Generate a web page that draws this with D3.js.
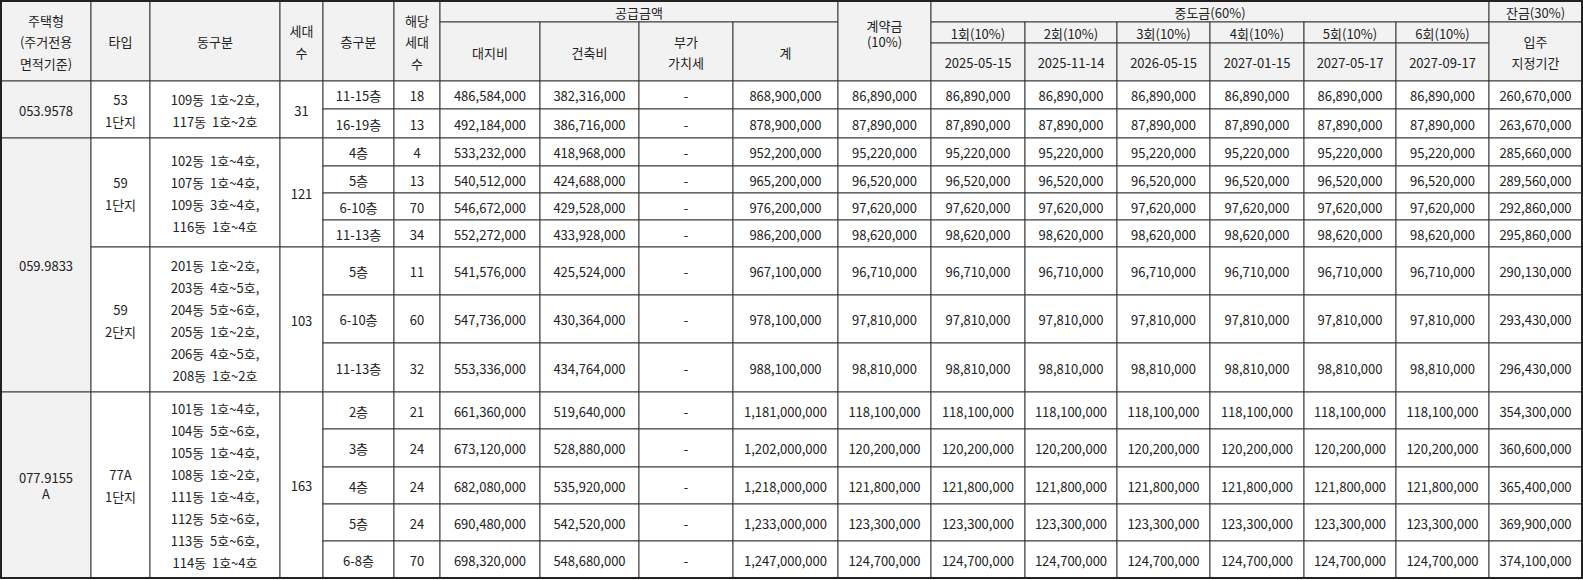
<!DOCTYPE html>
<html><head><meta charset="utf-8">
<script src="https://cdn.jsdelivr.net/npm/d3@7"></script>
<style>body{margin:0;background:#fff}</style>
</head><body><div id="chart"></div>
<script>
// 주택형 groups
const houseTypes = ['053.9578', '059.9833', '077.9155\nA'];
// 타입 groups
const typeLabels = ['53\n1단지', '59\n1단지', '59\n2단지', '77A\n1단지'];
const typeHouse = [0, 1, 1, 2];
const typeDong = [
  ['109동  1호~2호,', '117동  1호~2호'],
  ['102동  1호~4호,', '107동  1호~4호,', '109동  3호~4호,', '116동  1호~4호'],
  ['201동  1호~2호,', '203동  4호~5호,', '204동  5호~6호,', '205동  1호~2호,', '206동  4호~5호,', '208동  1호~2호'],
  ['101동  1호~4호,', '104동  5호~6호,', '105동  1호~4호,', '108동  1호~2호,', '111동  1호~4호,', '112동  5호~6호,', '113동  5호~6호,', '114동  1호~4호']
];
const typeUnits = [31, 121, 103, 163];
// floor rows
const rowType = [0, 0, 1, 1, 1, 1, 2, 2, 2, 3, 3, 3, 3, 3];
const floors = ['11-15층', '16-19층', '4층', '5층', '6-10층', '11-13층', '5층', '6-10층', '11-13층', '2층', '3층', '4층', '5층', '6-8층'];
const floorUnits = [18, 13, 4, 13, 70, 34, 11, 60, 32, 21, 24, 24, 24, 70];
const landCost = [486584000, 492184000, 533232000, 540512000, 546672000, 552272000, 541576000, 547736000, 553336000, 661360000, 673120000, 682080000, 690480000, 698320000];
const buildCost = [382316000, 386716000, 418968000, 424688000, 429528000, 433928000, 425524000, 430364000, 434764000, 519640000, 528880000, 535920000, 542520000, 548680000];
const totalCost = [868900000, 878900000, 952200000, 965200000, 976200000, 986200000, 967100000, 978100000, 988100000, 1181000000, 1202000000, 1218000000, 1233000000, 1247000000];
const deposit = [86890000, 87890000, 95220000, 96520000, 97620000, 98620000, 96710000, 97810000, 98810000, 118100000, 120200000, 121800000, 123300000, 124700000];
const balance = [260670000, 263670000, 285660000, 289560000, 292860000, 295860000, 290130000, 293430000, 296430000, 354300000, 360600000, 365400000, 369900000, 374100000];
const midRounds = ['1회(10%)', '2회(10%)', '3회(10%)', '4회(10%)', '5회(10%)', '6회(10%)'];
const midDates = ['2025-05-15', '2025-11-14', '2026-05-15', '2027-01-15', '2027-05-17', '2027-09-17'];

// layout
const colEdges = [0, 90, 149, 279, 322, 393, 439, 539, 638, 732, 837, 930, 1024, 1116, 1209, 1303, 1395, 1488, 1581];
const rowEdges = [80, 108, 137, 165, 192, 219, 246, 294, 342, 391, 428, 466, 503, 540, 577];
const ox = 1, oy = 1;
const fmt = d3.format(',');
const headFill = '#f2f2f2', lineColor = '#3a3a3a';

const svg = d3.select('#chart').append('svg')
  .attr('width', 1583).attr('height', 580)
  .style('font-family', '"Noto Sans CJK KR", "Noto Sans", sans-serif')
  .style('font-size', '13px');
const g = svg.append('g').attr('transform', `translate(${ox},${oy})`);

function cell(c0, c1, y0, y1, text, fill, lh) {
  const x0 = colEdges[c0], x1 = colEdges[c1];
  g.append('rect').attr('x', x0).attr('y', y0).attr('width', x1 - x0).attr('height', y1 - y0)
    .attr('fill', fill || '#fff').attr('stroke', lineColor).attr('stroke-width', 1);
  const lines = (Array.isArray(text) ? text : String(text).split('\n')).map(l => l.replace(/  /g, '\u00a0\u00a0'));
  const step = lh || 21.5;
  const cy = (y0 + y1) / 2 - (lines.length - 1) * step / 2;
  const t = g.append('text').attr('text-anchor', 'middle').attr('fill', '#222')
    .attr('dominant-baseline', 'central');
  lines.forEach((l, i) => {
    t.append('tspan').attr('x', (x0 + x1) / 2).attr('y', cy + i * step).text(l);
  });
}

// header
const h0 = 0, h1 = 21, h2 = 42, h3 = 80;
cell(0, 1, h0, h3, '주택형\n(주거전용\n면적기준)', headFill);
cell(1, 2, h0, h3, '타입', headFill);
cell(2, 3, h0, h3, '동구분', headFill);
cell(3, 4, h0, h3, '세대\n수', headFill);
cell(4, 5, h0, h3, '층구분', headFill);
cell(5, 6, h0, h3, '해당\n세대\n수', headFill);
cell(6, 10, h0, h1, '공급금액', headFill);
['대지비', '건축비', '부가\n가치세', '계'].forEach((s, i) => cell(6 + i, 7 + i, h1, h3, s, headFill));
g.append('rect').attr('x', colEdges[10]).attr('y', h0).attr('width', colEdges[11] - colEdges[10]).attr('height', h3)
  .attr('fill', headFill).attr('stroke', lineColor);
g.append('text').attr('x', (colEdges[10] + colEdges[11]) / 2).attr('y', 30).attr('text-anchor', 'middle')
  .attr('fill', '#222').selectAll('tspan').data(['계약금', '(10%)']).join('tspan')
  .attr('x', (colEdges[10] + colEdges[11]) / 2).attr('dy', (d, i) => i ? 16 : 0).text(d => d);
cell(11, 17, h0, h1, '중도금(60%)', headFill);
midRounds.forEach((s, i) => cell(11 + i, 12 + i, h1, h2, s, headFill));
midDates.forEach((s, i) => cell(11 + i, 12 + i, h2, h3, s, headFill));
cell(17, 18, h0, h1, '잔금(30%)', headFill);
cell(17, 18, h1, h3, '입주\n지정기간', headFill);

// grouped cells
houseTypes.forEach((ht, hi) => {
  const rows = d3.range(rowType.length).filter(r => typeHouse[rowType[r]] === hi);
  cell(0, 1, rowEdges[d3.min(rows)], rowEdges[d3.max(rows) + 1], ht, headFill, 16);
});
typeLabels.forEach((tl, ti) => {
  const rows = d3.range(rowType.length).filter(r => rowType[r] === ti);
  const y0 = rowEdges[d3.min(rows)], y1 = rowEdges[d3.max(rows) + 1];
  cell(1, 2, y0, y1, tl, '#fff', 22);
  cell(2, 3, y0, y1, typeDong[ti], '#fff', 22);
  cell(3, 4, y0, y1, typeUnits[ti], '#fff');
});

// floor rows
floors.forEach((f, r) => {
  const y0 = rowEdges[r], y1 = rowEdges[r + 1];
  const vals = [f, floorUnits[r], fmt(landCost[r]), fmt(buildCost[r]), '-', fmt(totalCost[r]), fmt(deposit[r])]
    .concat(midDates.map(() => fmt(deposit[r]))).concat([fmt(balance[r])]);
  vals.forEach((v, i) => cell(4 + i, 5 + i, y0, y1, v));
});

// outer frame
g.append('rect').attr('x', 0).attr('y', 0).attr('width', colEdges[colEdges.length - 1]).attr('height', rowEdges[rowEdges.length - 1])
  .attr('fill', 'none').attr('stroke', '#222').attr('stroke-width', 2);
</script>
</body></html>
